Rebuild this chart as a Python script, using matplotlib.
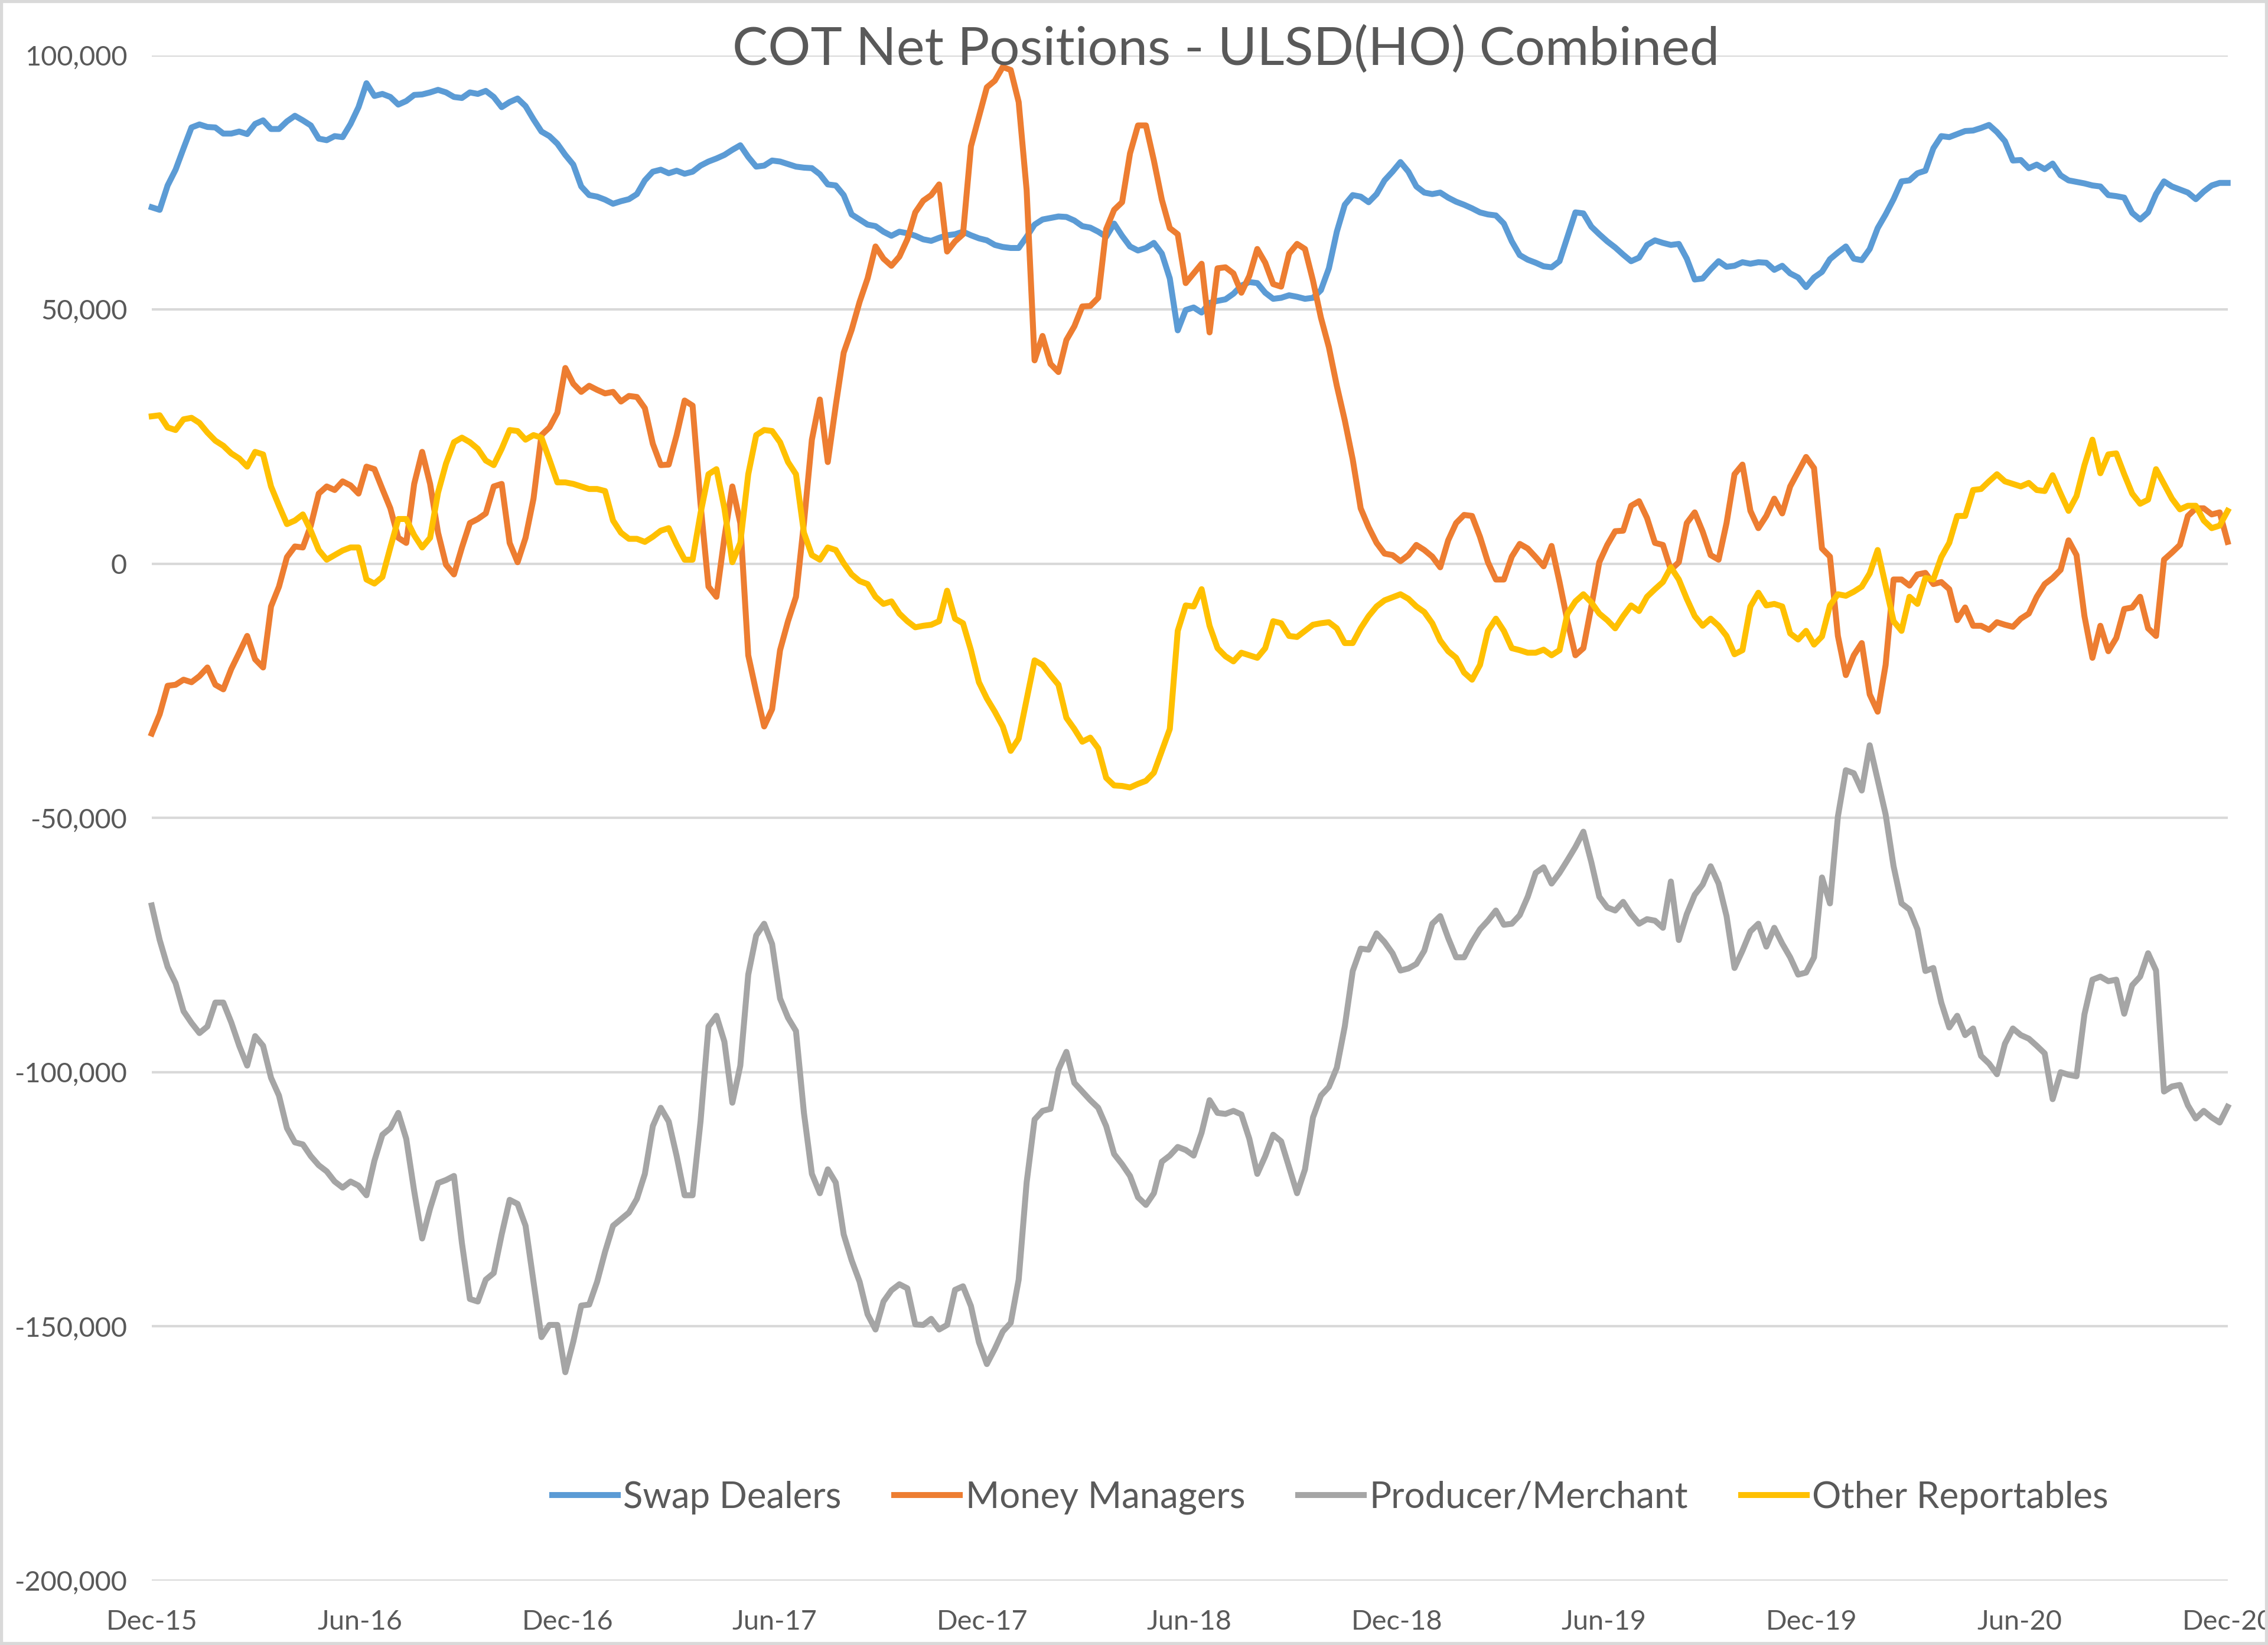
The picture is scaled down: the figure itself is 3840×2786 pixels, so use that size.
import matplotlib
matplotlib.use('Agg')
import matplotlib.pyplot as plt
from matplotlib.ticker import FuncFormatter
from matplotlib.patches import Rectangle
import numpy as np
import pandas as pd

plt.rcParams['font.family'] = ['Lato', 'DejaVu Sans']

# weekly COT net positions (thousands of contracts), 1 Dec 2015 .. 1 Dec 2020
swap_dealers = [
    70.1, 69.6, 74.4, 77.5, 81.7, 85.8, 86.4, 85.9, 85.8, 84.6, 84.6, 85.0, 84.5, 86.5, 87.2, 85.5, 85.5, 87.0,
    88.1, 87.2, 86.2, 83.6, 83.3, 84.1, 83.9, 86.5, 89.8, 94.5, 92.0, 92.4, 91.8, 90.3, 91.0, 92.2, 92.3, 92.7,
    93.2, 92.7, 91.8, 91.6, 92.7, 92.4, 93.0, 91.8, 89.8, 90.8, 91.5, 90.0, 87.4, 85.0, 84.1, 82.6,
    80.4, 78.5, 74.2, 72.5, 72.2, 71.6, 70.8, 71.3, 71.7, 72.7, 75.4, 77.1, 77.5, 76.8, 77.3, 76.7, 77.1, 78.3,
    79.1, 79.7, 80.4, 81.4, 82.3, 80.0, 78.1, 78.3, 79.3, 79.1, 78.6, 78.1, 77.9, 77.8, 76.6, 74.6, 74.4, 72.5,
    68.7, 67.7, 66.7, 66.4, 65.3, 64.5, 65.3, 65.0, 64.5, 63.8, 63.5, 64.1, 64.6, 64.8, 65.3, 64.6,
    64.0, 63.6, 62.7, 62.3, 62.1, 62.1, 64.3, 66.7, 67.7, 68.0, 68.3, 68.2, 67.5, 66.4, 66.1, 65.3, 64.3, 66.9,
    64.5, 62.4, 61.6, 62.1, 63.1, 61.0, 56.1, 45.9, 49.9, 50.4, 49.4, 51.3, 51.7, 52.0, 53.1, 54.7, 55.4, 55.2,
    53.3, 52.1, 52.3, 52.8, 52.5, 52.1, 52.3, 53.8, 58.1, 65.3, 70.6, 72.5, 72.2, 71.1, 72.7, 75.4,
    77.1, 79.0, 77.1, 74.2, 73.0, 72.7, 73.0, 72.0, 71.2, 70.6, 69.9, 69.1, 68.7, 68.5, 66.9, 63.4, 60.7, 59.8,
    59.2, 58.5, 58.3, 59.5, 64.3, 69.1, 68.9, 66.3, 64.8, 63.4, 62.2, 60.8, 59.5, 60.2, 62.7, 63.6, 63.1, 62.7,
    62.9, 60.0, 55.9, 56.1, 57.9, 59.5, 58.4, 58.6, 59.3, 59.0, 59.3, 59.2, 57.8, 58.6, 57.1, 56.3,
    54.4, 56.3, 57.4, 59.9, 61.2, 62.4, 60.0, 59.7, 61.9, 66.0, 68.7, 71.7, 75.2, 75.4, 76.8, 77.3, 81.7, 84.1,
    83.9, 84.5, 85.1, 85.2, 85.7, 86.3, 84.9, 83.1, 79.3, 79.4, 77.8, 78.5, 77.6, 78.7, 76.4, 75.4, 75.1, 74.8,
    74.4, 74.2, 72.5, 72.3, 72.0, 69.0, 67.7, 69.1, 72.7, 75.2, 74.2, 73.6, 73.0, 71.7, 73.2, 74.4, 74.9, 74.9,
]
money_managers = [
    -33.4, -29.6, -24.0, -23.8, -22.8, -23.3, -22.1, -20.4, -23.8, -24.7, -20.7, -17.5, -14.2, -18.8, -20.4,
    -8.4, -4.5, 1.3, 3.4, 3.2, 7.5, 13.8, 15.2, 14.5, 16.2, 15.4, 13.8, 19.1, 18.6, 14.7, 10.9, 5.1, 4.1, 15.7,
    22.0, 15.7, 6.1, -0.2, -2.1, 3.2, 8.0, 8.8, 9.9, 15.2, 15.7, 4.1, 0.3, 5.1, 12.8, 25.3, 26.8, 29.7,
    38.5, 35.4, 33.8, 35.0, 34.2, 33.5, 33.8, 31.9, 33.0, 32.8, 30.6, 23.6, 19.4, 19.5, 25.3, 32.1, 31.1, 11.8,
    -4.5, -6.5, 5.1, 15.2, 8.0, -18.0, -25.2, -32.0, -28.6, -17.0, -11.3, -6.5, 8.0, 24.4, 32.3, 20.0, 31.1,
    41.5, 46.0, 51.5, 56.1, 62.4, 60.0, 58.6, 60.4, 63.8, 69.1, 71.4, 72.5, 74.6, 61.4, 63.4, 64.8, 82.1,
    87.9, 93.7, 95.0, 97.7, 97.1, 90.8, 73.5, 40.0, 44.8, 39.3, 37.7, 44.0, 46.7, 50.6, 50.7, 52.3, 65.8, 69.6,
    71.1, 80.7, 86.2, 86.2, 79.3, 71.6, 66.0, 64.8, 55.2, 57.1, 59.0, 45.5, 58.1, 58.3, 57.1, 53.3, 56.6, 61.9,
    59.2, 55.0, 54.5, 61.0, 62.9, 61.9, 55.7, 48.4, 42.6, 35.0, 28.2, 20.5, 10.9, 7.2, 4.1, 2.0,
    1.7, 0.5, 1.7, 3.7, 2.7, 1.4, -0.7, 4.6, 8.0, 9.6, 9.4, 5.3, 0.3, -3.1, -3.1, 1.4, 3.9, 3.0, 1.3, -0.5, 3.5,
    -3.6, -11.3, -18.0, -16.6, -8.4, 0.3, 3.7, 6.4, 6.5, 11.4, 12.3, 9.0, 4.1, 3.7, -1.2, 0.3, 8.0, 10.1, 6.3,
    1.7, 0.8, 8.0, 17.6, 19.5, 10.4, 7.0, 9.4, 12.8, 9.9, 15.2, 18.1,
    21.0, 18.8, 3.0, 1.4, -14.2, -21.9, -18.0, -15.6, -25.7, -29.1, -19.9, -3.1, -3.1, -4.3, -2.1, -1.8, -4.0,
    -3.6, -5.0, -11.1, -8.6, -12.2, -12.2, -13.0, -11.5, -12.0, -12.4, -10.8, -9.8, -6.5, -4.0, -2.8, -1.2, 4.6,
    1.7, -10.3, -18.5, -12.2, -17.2, -14.6, -8.9, -8.6, -6.5, -12.7, -14.2, 0.8, 2.2, 3.7, 9.4, 10.9, 10.9, 9.7,
    10.1, 4.3,
]
producer_merchant = [
    -67.2, -74.0, -79.3, -82.5, -88.0, -90.3, -92.3, -91.0, -86.3, -86.3, -90.2, -94.8, -98.7, -92.9, -94.8,
    -101.1, -104.6, -111.0, -113.8, -114.2, -116.5, -118.3, -119.5, -121.5, -122.7, -121.5, -122.3, -124.2,
    -117.4, -112.3, -111.0, -108.0, -113.1, -123.4, -132.7, -126.8, -121.8, -121.2, -120.4, -133.6, -144.6,
    -145.1, -140.8, -139.5, -131.9, -125.1, -125.9, -130.2, -141.2, -152.1, -149.7, -149.7,
    -159.0, -153.0, -145.9, -145.7, -141.2, -135.3, -130.2, -128.9, -127.6, -124.9, -120.0, -110.6, -107.0,
    -109.7, -116.5, -124.2, -124.2, -109.7, -91.0, -88.9, -94.0, -106.0, -98.7, -80.8, -73.1, -70.8, -74.8,
    -85.5, -89.3, -91.9, -108.0, -120.0, -123.8, -119.1, -121.7, -131.9, -137.0, -141.2, -147.6, -150.6,
    -145.1, -142.9, -141.7, -142.5, -149.6, -149.7, -148.5, -150.6, -149.7, -142.8, -142.1, -146.0,
    -153.1, -157.4, -154.4, -151.0, -149.3, -140.8, -121.7, -109.3, -107.6, -107.2, -99.5, -96.0, -102.1,
    -103.8, -105.5, -107.0, -110.6, -116.1, -118.1, -120.4, -124.6, -126.1, -123.8, -117.6, -116.4, -114.7,
    -115.3, -116.4, -111.9, -105.5, -108.0, -108.2, -107.6, -108.3, -113.1, -120.0, -116.5, -112.3, -113.6,
    -118.7, -123.8, -119.1, -108.9, -104.6, -102.9, -99.1, -91.0, -80.1, -75.7, -75.9, -72.7, -74.4,
    -76.6, -80.0, -79.6, -78.7, -76.1, -70.8, -69.3, -73.6, -77.4, -77.4, -74.4, -71.9, -70.2, -68.2, -71.0,
    -70.8, -69.1, -65.5, -60.8, -59.7, -62.9, -60.8, -58.3, -55.7, -52.7, -58.7, -65.5, -67.6, -68.2, -66.5,
    -68.9, -70.8, -69.9, -70.2, -71.6, -62.5, -74.0, -68.9, -65.1, -63.1, -59.5, -62.9, -69.3, -79.5, -76.1,
    -72.3, -70.8, -75.3, -71.6, -74.7, -77.4, -80.8,
    -80.4, -77.4, -61.7, -66.8, -49.7, -40.6, -41.2, -44.6, -35.7, -42.5, -49.3, -59.5, -66.8, -68.0, -71.9,
    -80.1, -79.5, -86.3, -91.2, -88.9, -92.7, -91.4, -96.8, -98.3, -100.4, -94.4, -91.4, -92.7, -93.4, -94.8,
    -96.3, -105.3, -100.0, -100.5, -100.8, -88.6, -81.8, -81.2, -82.1, -81.8, -88.5, -82.9, -81.2, -76.6,
    -80.0, -103.8, -102.8, -102.5, -106.5, -109.1, -107.6, -108.9, -109.9, -106.8,
]
other_reportables = [
    29.0, 29.2, 26.8, 26.3, 28.4, 28.7, 27.7, 25.8, 24.2, 23.2, 21.7, 20.7, 19.1, 22.0, 21.5, 15.2, 11.4, 7.8,
    8.5, 9.7, 6.5, 2.7, 0.8, 1.7, 2.6, 3.2, 3.2, -3.1, -3.9, -2.6, 3.2, 8.8, 8.8, 5.6, 3.2, 5.1, 14.0, 19.7,
    23.9, 24.8, 23.9, 22.6, 20.3, 19.4, 22.6, 26.3, 26.1, 24.4, 25.3, 24.8, 20.5, 16.0,
    16.0, 15.7, 15.2, 14.7, 14.7, 14.3, 8.5, 6.1, 4.9, 4.9, 4.3, 5.3, 6.5, 7.0, 3.7, 0.8, 0.8, 9.9, 17.6, 18.6,
    10.9, 0.3, 4.1, 17.6, 25.3, 26.3, 26.1, 23.9, 20.0, 17.6, 6.1, 1.7, 0.8, 3.2, 2.7, 0.1, -2.1, -3.4, -4.0,
    -6.5, -7.9, -7.4, -9.8, -11.3, -12.5, -12.2, -12.0, -11.3, -5.3, -10.8, -11.7, -17.0,
    -23.3, -26.5, -29.1, -32.0, -36.8, -34.4, -26.7, -19.0, -19.9, -21.9, -23.8, -30.3, -32.5, -35.0, -34.2,
    -36.3, -42.1, -43.6, -43.7, -44.0, -43.3, -42.7, -41.1, -36.8, -32.5, -13.2, -8.2, -8.4, -5.0, -12.2,
    -16.6, -18.2, -19.2, -17.5, -18.0, -18.5, -16.6, -11.3, -11.7, -14.2, -14.4, -13.2, -12.0, -11.7, -11.5,
    -12.7, -15.6, -15.6, -12.7, -10.3, -8.4, -7.2,
    -6.6, -6.0, -6.9, -8.4, -9.5, -11.7, -15.1, -17.2, -18.5, -21.4, -22.8, -19.9, -13.2, -10.8, -13.2, -16.6,
    -17.0, -17.5, -17.5, -16.9, -18.0, -17.0, -9.8, -7.4, -6.0, -7.6, -9.8, -11.1, -12.7, -10.3, -8.2, -9.3,
    -6.5, -5.0, -3.6, -0.7, -3.1, -6.9, -10.3, -12.2, -10.8, -12.2, -14.2, -17.8, -17.0, -8.4, -5.7, -8.2,
    -7.9, -8.4, -13.7, -14.9,
    -13.2, -15.9, -14.3, -8.2, -6.0, -6.3, -5.5, -4.5, -1.9, 2.7, -4.3, -11.3, -13.2, -6.5, -7.9, -2.8, -3.1,
    1.3, 4.1, 9.4, 9.4, 14.5, 14.7, 16.2, 17.6, 16.2, 15.7, 15.2, 15.9, 14.5, 14.3, 17.4, 13.8, 10.4, 13.3,
    19.4, 24.4, 17.8, 21.5, 21.7, 17.6, 13.8, 11.8, 12.6, 18.6, 15.7, 12.8, 10.7, 11.4, 11.4, 8.5, 7.0, 7.5,
    10.4,
]

series_names = ['Swap Dealers', 'Money Managers', 'Producer/Merchant', 'Other Reportables']
series_colors = ['#5B9BD5', '#ED7D31', '#A5A5A5', '#FFC000']
series_values = [swap_dealers, money_managers, producer_merchant, other_reportables]

dates = pd.date_range('2015-12-01', periods=262, freq='7D')
tick_dates = pd.date_range('2015-12-01', '2020-12-01', freq='6MS')

fig = plt.figure(figsize=(15.36, 11.144), dpi=250)
ax = fig.add_axes([0.0669, 0.0391, 0.9153, 0.9273])

for name, color, vals in zip(series_names, series_colors, series_values):
    vals = np.array(vals) * 1000
    ax.plot(dates[:len(vals)], vals, color=color, lw=2.9, label=name,
            solid_joinstyle='round', clip_on=False)

ax.set_xlim(dates[0], pd.Timestamp('2020-12-01'))
ax.set_ylim(-200000, 100000)
ax.set_yticks(np.arange(-200000, 100001, 50000))
ax.yaxis.set_major_formatter(FuncFormatter(lambda v, _: f'{v:,.0f}'))
ax.set_xticks(tick_dates)
ax.set_xticklabels([d.strftime('%b-%y') for d in tick_dates])

ax.grid(axis='y', color='#D9D9D9', lw=1.2)
ax.set_axisbelow(True)
for s in ax.spines.values():
    s.set_visible(False)
ax.tick_params(axis='both', length=0, labelsize=13.5, colors='#595959')
ax.tick_params(axis='x', pad=14)
ax.tick_params(axis='y', pad=12)

fig.text(0.5405, 1 - 110 / 2786, 'COT Net Positions - ULSD(HO) Combined',
         ha='center', va='baseline', fontsize=26, color='#595959')

ax.legend(loc='center', bbox_to_anchor=(0.5865, 0.0895), bbox_transform=fig.transFigure,
          ncol=4, frameon=False, fontsize=17.8, handlelength=1.8, handletextpad=0.15,
          columnspacing=1.45, labelcolor='#595959')

fig.add_artist(Rectangle((0, 0), 1, 1, transform=fig.transFigure, fill=False,
                         ec='#D9D9D9', lw=3))

fig.savefig('out.png', dpi=250)
